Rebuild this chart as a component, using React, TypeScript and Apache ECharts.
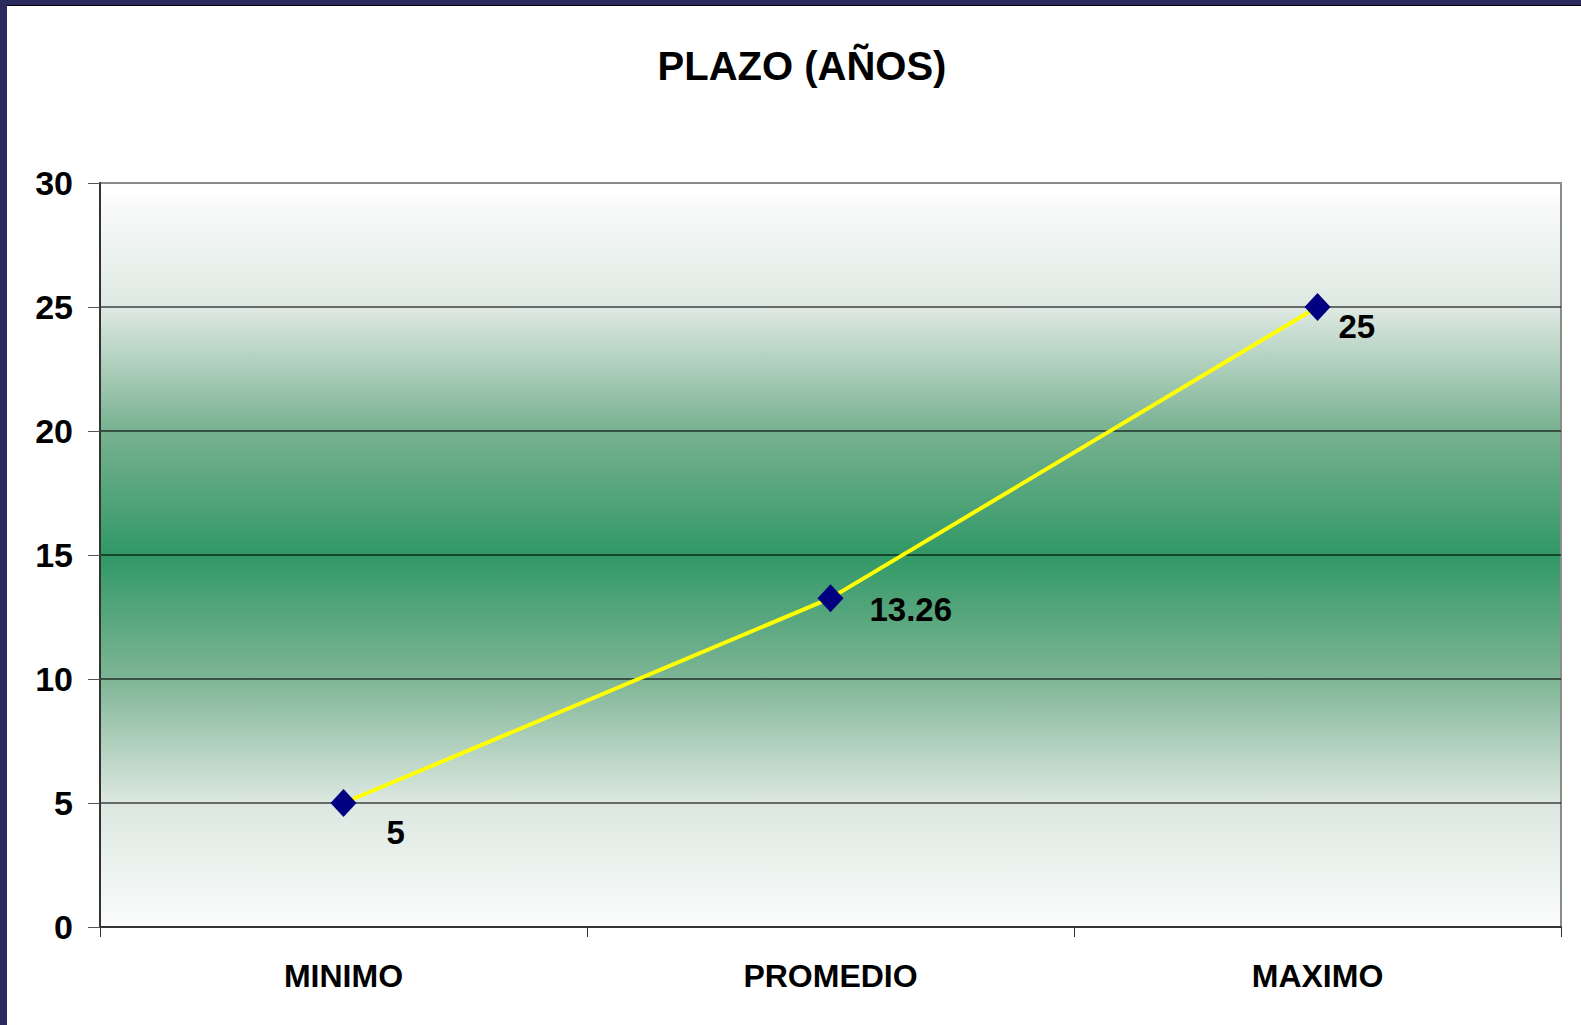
import React, { useEffect, useRef } from "react";
import * as echarts from "echarts";

const titleText = "PLAZO (AÑOS)";
const categories = ["MINIMO", "PROMEDIO", "MAXIMO"];
const values = [5, 13.26, 25];
const yMin = 0;
const yMax = 30;
const yInterval = 5;

// label placement style (px offsets next to each marker)
const labelOffsets: [number, number][] = [
  [25, 29],
  [21, 11],
  [3, 19],
];

const FONT = "'Liberation Sans', Arial, Helvetica, sans-serif";

export default function App() {
  const ref = useRef<HTMLDivElement>(null);

  useEffect(() => {
    if (!ref.current) return;
    const chart = echarts.init(ref.current, undefined, { renderer: "svg" });
    chart.setOption({
      animation: false,
      backgroundColor: "#ffffff",
      title: {
        text: titleText,
        left: 797,
        top: 41,
        textAlign: "center",
        textStyle: {
          fontFamily: FONT,
          fontWeight: "bold",
          fontSize: 40,
          color: "#000000",
        },
      },
      graphic: [
        { type: "rect", shape: { x: 0, y: 0, width: 1581, height: 5 }, style: { fill: "#2b2a5f" } },
        { type: "rect", shape: { x: 0, y: 5, width: 1581, height: 1 }, style: { fill: "#000000" } },
        { type: "rect", shape: { x: 0, y: 0, width: 7, height: 1025 }, style: { fill: "#2b2a5f" } },
      ],
      grid: {
        left: 100,
        top: 183,
        right: 20,
        bottom: 98,
        show: true,
        borderColor: "#8c8c8c",
        borderWidth: 2,
        backgroundColor: new echarts.graphic.LinearGradient(0, 0, 0, 1, [
          { offset: 0, color: "#ffffff" },
          { offset: 0.17, color: "#dde8e2" },
          { offset: 0.33, color: "#79b291" },
          { offset: 0.5, color: "#319866" },
          { offset: 0.67, color: "#80b696" },
          { offset: 0.83, color: "#dbe7e0" },
          { offset: 1, color: "#fafcfb" },
        ]),
      },
      xAxis: {
        type: "category",
        data: categories,
        boundaryGap: true,
        axisLine: { show: true, lineStyle: { color: "#333333", width: 2 } },
        axisTick: { show: true, length: 10, lineStyle: { color: "#333333", width: 1 } },
        axisLabel: {
          margin: 33,
          fontFamily: FONT,
          fontWeight: "bold",
          fontSize: 32,
          color: "#000000",
        },
        splitLine: { show: false },
      },
      yAxis: {
        type: "value",
        min: yMin,
        max: yMax,
        interval: yInterval,
        axisLine: { show: true, lineStyle: { color: "#333333", width: 2 } },
        axisTick: { show: true, length: 12, lineStyle: { color: "#555555", width: 1 } },
        axisLabel: {
          margin: 27,
          fontFamily: FONT,
          fontWeight: "bold",
          fontSize: 34,
          color: "#000000",
        },
        splitLine: {
          show: true,
          showMaxLine: false,
          showMinLine: false,
          lineStyle: { color: "rgba(0,0,0,0.72)", width: 1.5 },
        },
      },
      series: [
        {
          type: "line",
          data: values.map((v, i) => ({
            value: v,
            label: { offset: labelOffsets[i] },
          })),
          symbol: "diamond",
          symbolSize: [26, 28],
          itemStyle: { color: "#000080" },
          lineStyle: { color: "#ffff00", width: 4 },
          label: {
            show: true,
            position: "right",
            distance: 5,
            fontFamily: FONT,
            fontWeight: "bold",
            fontSize: 33,
            color: "#000000",
          },
          z: 5,
        },
      ],
    });
    return () => chart.dispose();
  }, []);

  return (
    <div style={{ position: "fixed", left: 0, top: 0, width: 1581, height: 1025, background: "#fff" }}>
      <div ref={ref} style={{ width: 1581, height: 1025 }} />
    </div>
  );
}
